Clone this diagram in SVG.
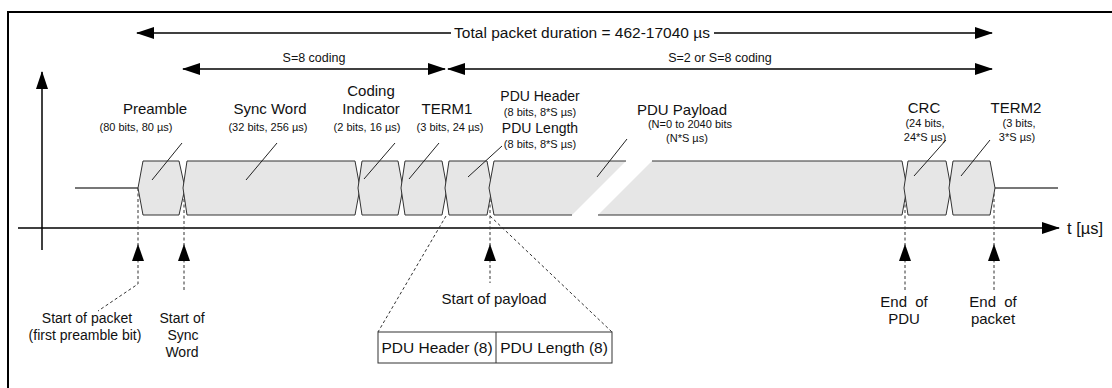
<svg xmlns="http://www.w3.org/2000/svg" width="1112" height="388" viewBox="0 0 1112 388">
<style>
text{font-family:"Liberation Sans",Arial,sans-serif;fill:#111;text-anchor:middle}
.t15{font-size:15px}
.t14{font-size:14px}
.t12{font-size:12.5px}
.t11{font-size:11px}
.seg{fill:#e6e6e6;stroke:#333;stroke-width:1}
.lead{stroke:#222;stroke-width:1;fill:none}
.dash{stroke:#333;stroke-width:1;stroke-dasharray:3,2.5;fill:none}
.ax{stroke:#000;stroke-width:1.5;fill:none}
.base{stroke:#777;stroke-width:2;fill:none}
</style>
<defs>
<marker id="ah" markerUnits="userSpaceOnUse" markerWidth="18" markerHeight="12" refX="17" refY="6" orient="auto-start-reverse">
<path d="M0,0 L18,6 L0,12 z" fill="#000"/>
</marker>
<path id="up" d="M0,0 L6,17 L-6,17 z" fill="#000"/>
</defs>
<path d="M8,388 V12 H1112" fill="none" stroke="#000" stroke-width="2"/>

<g id="connectors">
<line class="ax" x1="137" y1="33" x2="451" y2="33" marker-start="url(#ah)"/>
<line class="ax" x1="714" y1="33" x2="992" y2="33" marker-end="url(#ah)"/>
<line class="ax" x1="183" y1="69" x2="445" y2="69" marker-start="url(#ah)" marker-end="url(#ah)"/>
<line class="ax" x1="448" y1="69" x2="992" y2="69" marker-start="url(#ah)" marker-end="url(#ah)"/>
<line class="ax" x1="42" y1="250" x2="42" y2="72" marker-end="url(#ah)"/>
<line class="ax" x1="18" y1="228" x2="1059" y2="228" marker-end="url(#ah)"/>
<line class="base" x1="75" y1="188" x2="138" y2="188"/>
<line class="base" x1="995" y1="188" x2="1058" y2="188"/>
<path class="dash" d="M138,188 V284 L98,311"/>
<path class="dash" d="M184,188 V291"/>
<path class="dash" d="M490,188 V283"/>
<path class="dash" d="M905,188 V290"/>
<path class="dash" d="M994,188 V290"/>
<path class="dash" d="M446,216 L378,332" stroke-dasharray="7,6"/>
<path class="dash" d="M490,216 L612,332" stroke-dasharray="7,6"/>
<use href="#up" x="138" y="244"/>
<use href="#up" x="184" y="244"/>
<use href="#up" x="490" y="244"/>
<use href="#up" x="905" y="244"/>
<use href="#up" x="994" y="244"/>
</g>

<g id="labels-top">
<text x="582" y="38" style="font-size:15.5px">Total packet duration = 462-17040 µs</text>
<text class="t12" x="314" y="62">S=8 coding</text>
<text class="t12" x="720" y="62">S=2 or S=8 coding</text>
<text x="1067" y="234" style="font-size:16.5px;text-anchor:start">t [µs]</text>
</g>

<g id="preamble">
<path class="seg" d="M138,188 L143,161 L179,161 L185,188 L179,215 L143,215 z"/>
<line class="lead" x1="152" y1="180" x2="182" y2="143"/>
<text class="t15" x="155" y="114">Preamble</text>
<text class="t11" x="136" y="131">(80 bits, 80 µs)</text>
</g>
<g id="sync-word">
<path class="seg" d="M183,188 L187,161 L355,161 L360,188 L355,215 L187,215 z"/>
<line class="lead" x1="246" y1="180" x2="277" y2="143"/>
<text class="t15" x="270" y="114">Sync Word</text>
<text class="t11" x="268" y="131">(32 bits, 256 µs)</text>
</g>
<g id="coding-indicator">
<path class="seg" d="M358,188 L362,161 L398,161 L403,188 L398,215 L362,215 z"/>
<line class="lead" x1="364" y1="179" x2="395" y2="143"/>
<text class="t15" x="371" y="96">Coding</text>
<text class="t15" x="371" y="114">Indicator</text>
<text class="t11" x="367" y="131">(2 bits, 16 µs)</text>
</g>
<g id="term1">
<path class="seg" d="M401,188 L405,161 L442,161 L447,188 L442,215 L405,215 z"/>
<line class="lead" x1="409" y1="179" x2="439" y2="143"/>
<text class="t15" x="447" y="114">TERM1</text>
<text class="t11" x="450" y="131">(3 bits, 24 µs)</text>
</g>
<g id="pdu-header-length">
<path class="seg" d="M445,188 L449,161 L487,161 L492,188 L487,215 L449,215 z"/>
<line class="lead" x1="468" y1="177" x2="502" y2="146"/>
<text class="t14" x="540" y="101">PDU Header</text>
<text class="t11" x="540" y="116">(8 bits, 8*S µs)</text>
<text class="t14" x="540" y="133">PDU Length</text>
<text class="t11" x="540" y="148">(8 bits, 8*S µs)</text>
</g>
<g id="pdu-payload">
<path d="M572,215 L494,215 L489,188 L494,161 L626,161 z" fill="#e6e6e6"/>
<path d="M572,215 L494,215 L489,188 L494,161 L626,161" fill="none" stroke="#333" stroke-width="1"/>
<path d="M652,161 L902,161 L907,188 L902,215 L598,215 z" fill="#e6e6e6"/>
<path d="M652,161 L902,161 L907,188 L902,215 L598,215" fill="none" stroke="#333" stroke-width="1"/>
<line class="lead" x1="597" y1="177" x2="627" y2="139"/>
<text class="t15" x="682" y="115">PDU Payload</text>
<text class="t11" x="690" y="128">(N=0 to 2040 bits</text>
<text class="t11" x="687" y="142">(N*S µs)</text>
</g>
<g id="crc">
<path class="seg" d="M904,188 L908,161 L946,161 L951,188 L946,215 L908,215 z"/>
<line class="lead" x1="914" y1="176" x2="946" y2="140"/>
<text class="t15" x="924" y="113">CRC</text>
<text class="t11" x="925" y="127">(24 bits,</text>
<text class="t11" x="925" y="141">24*S µs)</text>
</g>
<g id="term2">
<path class="seg" d="M949,188 L953,161 L990,161 L995,188 L990,215 L953,215 z"/>
<line class="lead" x1="961" y1="176" x2="990" y2="140"/>
<text class="t15" x="1016" y="113">TERM2</text>
<text class="t11" x="1019" y="127">(3 bits,</text>
<text class="t11" x="1017" y="141">3*S µs)</text>
</g>

<g id="markers-text">
<text class="t14" x="87" y="323">Start of packet</text>
<text class="t14" x="85" y="340">(first preamble bit)</text>
<text class="t14" x="182" y="323">Start of</text>
<text class="t14" x="183" y="340">Sync</text>
<text class="t14" x="182" y="357">Word</text>
<text class="t15" x="494" y="304">Start of payload</text>
<text class="t15" x="904" y="307" word-spacing="4">End of</text>
<text class="t15" x="904" y="324">PDU</text>
<text class="t15" x="993" y="307" word-spacing="4">End of</text>
<text class="t15" x="993" y="324">packet</text>
</g>

<g id="expansion-box">
<rect x="378" y="332" width="234" height="31" fill="#fff" stroke="#333" stroke-width="1"/>
<line x1="496" y1="332" x2="496" y2="363" stroke="#333" stroke-width="1"/>
<text x="437" y="353" style="font-size:15.5px">PDU Header (8)</text>
<text x="554" y="353" style="font-size:15.5px">PDU Length (8)</text>
</g>
</svg>
